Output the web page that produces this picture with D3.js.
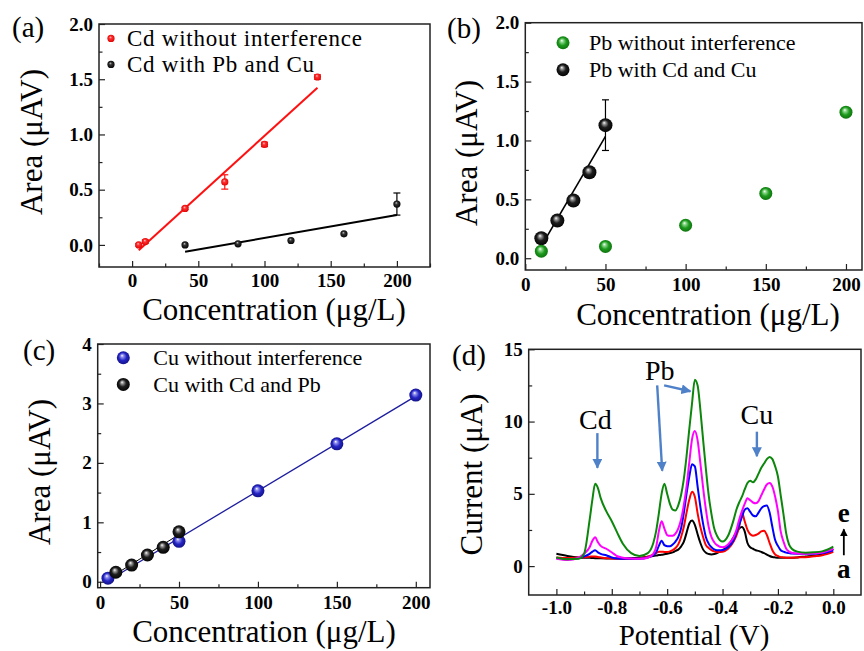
<!DOCTYPE html>
<html>
<head>
<meta charset="utf-8">
<script src="https://cdn.jsdelivr.net/npm/d3@7"></script>
<style>
body { margin: 0; background: #fff; }
svg { display: block; font-family: "Liberation Serif", "Times New Roman", serif; }
</style>
</head>
<body>
<div id="chart"></div>
<script>
// ---- (a) Cd ----
const concA_free = [5, 10, 40, 70, 100, 140];
const areaA_free = [0.00, 0.03, 0.33, 0.57, 0.91, 1.52];
const errA_free = [0.01, 0.015, 0.01, 0.065, 0.02, 0.02];
const concA_mix = [40, 80, 120, 160, 200];
const areaA_mix = [0.00, 0.01, 0.04, 0.10, 0.37];
const errA_mix = [0, 0, 0, 0, 0.10];

// ---- (b) Pb ----
const concB_free = [10, 50, 100, 150, 200];
const areaB_free = [0.06, 0.10, 0.28, 0.55, 1.24];
const errB_free = [0, 0, 0, 0.04, 0];
const concB_mix = [10, 20, 30, 40, 50];
const areaB_mix = [0.17, 0.32, 0.49, 0.73, 1.13];
const errB_mix = [0, 0, 0, 0, 0.215];

// ---- (c) Cu ----
const concC_free = [5, 50, 100, 150, 200];
const areaC_free = [0.06, 0.68, 1.53, 2.32, 3.14];
const errC_free = [0, 0.07, 0, 0, 0];
const concC_mix = [10, 20, 30, 40, 50];
const areaC_mix = [0.16, 0.28, 0.45, 0.58, 0.84];
const errC_mix = [0, 0, 0, 0, 0];

// ---- (d) stripping voltammograms, curves a..e ----
const potential = [-1.00, -0.96, -0.92, -0.90, -0.88, -0.87, -0.86, -0.85, -0.84, -0.82,
  -0.80, -0.78, -0.76, -0.73, -0.70, -0.67, -0.65, -0.64, -0.63, -0.62,
  -0.61, -0.60, -0.59, -0.58, -0.57, -0.56, -0.55, -0.54, -0.53, -0.52,
  -0.51, -0.50, -0.49, -0.48, -0.47, -0.46, -0.45, -0.44, -0.43, -0.42,
  -0.40, -0.38, -0.36, -0.35, -0.34, -0.33, -0.32, -0.31, -0.30, -0.29,
  -0.28, -0.27, -0.26, -0.25, -0.24, -0.23, -0.22, -0.21, -0.20, -0.19,
  -0.18, -0.17, -0.16, -0.15, -0.13, -0.10, -0.07, -0.04, -0.02, 0.00];
const currentA = [0.85, 0.70, 0.60, 0.58, 0.57, 0.56, 0.55, 0.55, 0.54, 0.53,
  0.53, 0.53, 0.53, 0.55, 0.58, 0.64, 0.70, 0.73, 0.76, 0.78,
  0.82, 0.86, 0.90, 0.95, 1.05, 1.14, 1.35, 1.67, 2.30, 2.95,
  3.15, 2.85, 2.20, 1.60, 1.14, 0.92, 0.84, 0.81, 0.83, 0.90,
  1.10, 1.40, 2.00, 2.35, 2.60, 2.70, 2.40, 1.60, 1.30, 1.20,
  1.10, 1.05, 0.98, 0.90, 0.80, 0.70, 0.63, 0.60, 0.58, 0.58,
  0.58, 0.58, 0.58, 0.58, 0.60, 0.66, 0.72, 0.80, 0.95, 1.20];
const currentB = [0.60, 0.56, 0.60, 0.62, 0.65, 0.67, 0.67, 0.63, 0.60, 0.55,
  0.53, 0.50, 0.49, 0.50, 0.53, 0.65, 0.80, 0.90, 1.00, 1.00,
  0.98, 0.98, 1.02, 1.10, 1.25, 1.50, 2.00, 2.70, 3.70, 4.60,
  5.15, 4.80, 3.65, 2.70, 2.00, 1.45, 1.25, 1.10, 1.02, 0.98,
  1.00, 1.20, 1.70, 2.10, 2.70, 3.70, 3.10, 2.50, 2.20, 2.10,
  2.15, 2.25, 2.40, 2.45, 2.15, 1.60, 1.10, 0.80, 0.70, 0.62,
  0.60, 0.58, 0.58, 0.58, 0.60, 0.62, 0.68, 0.75, 0.85, 0.98];
const currentC = [0.55, 0.48, 0.55, 0.67, 0.85, 1.00, 1.10, 0.95, 0.85, 0.75,
  0.60, 0.52, 0.50, 0.50, 0.50, 0.60, 0.75, 0.95, 1.40, 1.75,
  1.45, 1.38, 1.37, 1.50, 1.70, 2.00, 2.60, 3.65, 5.00, 6.20,
  7.05, 6.90, 5.50, 4.10, 2.90, 2.00, 1.55, 1.30, 1.15, 1.10,
  1.10, 1.30, 1.80, 2.30, 2.85, 3.40, 3.90, 4.00, 3.75, 3.50,
  3.45, 3.70, 4.00, 4.15, 4.20, 3.70, 2.70, 1.80, 1.40, 1.10,
  1.00, 0.93, 0.90, 0.87, 0.86, 0.86, 0.86, 0.90, 0.98, 1.10];
const currentD = [0.50, 0.42, 0.58, 0.85, 1.30, 1.75, 2.00, 1.65, 1.40, 1.20,
  0.95, 0.68, 0.58, 0.52, 0.50, 0.58, 0.85, 1.30, 2.40, 3.10,
  2.60, 2.15, 2.10, 2.10, 2.25, 2.60, 3.20, 4.20, 5.50, 7.20,
  8.80, 9.35, 8.70, 7.10, 5.40, 3.90, 2.70, 2.00, 1.65, 1.45,
  1.30, 1.50, 2.00, 2.50, 3.20, 3.80, 4.30, 4.70, 4.55, 4.40,
  4.35, 4.50, 4.90, 5.30, 5.65, 5.75, 5.50, 4.80, 3.80, 2.40,
  1.70, 1.20, 1.00, 0.92, 0.87, 0.86, 0.88, 0.94, 1.05, 1.20];
const currentE = [0.60, 0.47, 0.50, 0.85, 3.20, 4.60, 5.70, 5.40, 4.70, 3.80,
  3.10, 2.30, 1.55, 0.90, 0.70, 0.90, 1.60, 2.40, 3.65, 5.00,
  5.70, 5.00, 4.30, 3.90, 3.85, 4.20, 4.90, 6.00, 7.60, 9.50,
  11.30, 12.90, 12.50, 10.80, 8.70, 6.70, 4.90, 3.60, 2.60, 2.10,
  1.70, 2.10, 3.20, 3.90, 4.40, 4.80, 5.30, 5.75, 5.90, 5.80,
  6.00, 6.40, 6.80, 7.10, 7.40, 7.55, 7.40, 6.90, 6.20, 4.90,
  3.60, 2.25, 1.50, 1.20, 1.00, 0.93, 0.95, 1.02, 1.15, 1.35];

const FONT = '"Liberation Serif", "Times New Roman", serif';

const svg = d3.select("#chart").append("svg")
    .attr("width", 864)
    .attr("height", 651);
const defs = svg.append("defs");

// shaded "ball" markers like the origin plot symbols
const ball = (id, stops) => {
    const grad = defs.append("radialGradient").attr("id", id)
        .attr("cx", "50%").attr("cy", "50%").attr("r", "55%")
        .attr("fx", "40%").attr("fy", "32%");
    stops.forEach(([o, c]) => grad.append("stop").attr("offset", o).attr("stop-color", c));
};
ball("dotRed", [[0, "#ffc8c8"], [0.35, "#ff3030"], [1, "#dc0000"]]);
ball("dotBlack", [[0, "#c8c8c8"], [0.35, "#333333"], [1, "#000000"]]);
ball("ballBlack", [[0, "#ffffff"], [0.18, "#9a9a9a"], [0.5, "#1e1e1e"], [1, "#000000"]]);
ball("ballGreen", [[0, "#ffffff"], [0.2, "#8fd88f"], [0.55, "#1d9a1d"], [1, "#0b6e0b"]]);
ball("ballBlue", [[0, "#ffffff"], [0.2, "#9090ec"], [0.55, "#2424c4"], [1, "#10107e"]]);

const arrowHead = (id, color, size) => {
    defs.append("marker").attr("id", id)
        .attr("viewBox", "0 0 10 10")
        .attr("refX", 9).attr("refY", 5)
        .attr("markerUnits", "userSpaceOnUse")
        .attr("markerWidth", size).attr("markerHeight", size)
        .attr("orient", "auto")
        .append("path").attr("d", "M0,0 L10,5 L0,10 z").attr("fill", color);
};
arrowHead("arrowBlue", "#4f81c9", 10);
arrowHead("arrowBlack", "#000", 8);

const panel = p => {
    const g = svg.append("g");
    const x = d3.scaleLinear().domain(p.xDomain).range([p.left, p.right]);
    const y = d3.scaleLinear().domain(p.yDomain).range([p.bottom, p.top]);

    const styleAxis = a => {
        a.select(".domain").remove();
        a.attr("font-family", FONT).attr("font-size", 19).attr("font-weight", "bold");
        a.selectAll("line").attr("stroke", "#222").attr("stroke-width", 1.2);
        a.selectAll("text").attr("fill", "#000");
    };
    const noText = a => a.selectAll("text").remove();

    g.append("g").attr("transform", "translate(0," + p.bottom + ")")
        .call(d3.axisBottom(x).tickValues(p.xMinor).tickSize(-3.5))
        .call(styleAxis).call(noText);
    g.append("g").attr("transform", "translate(" + p.left + ",0)")
        .call(d3.axisLeft(y).tickValues(p.yMinor).tickSize(-3.5))
        .call(styleAxis).call(noText);
    g.append("g").attr("transform", "translate(0," + p.bottom + ")")
        .call(d3.axisBottom(x).tickValues(p.xTicks).tickSize(-6).tickPadding(p.xPad || 8).tickFormat(p.xFmt))
        .call(styleAxis);
    g.append("g").attr("transform", "translate(" + p.left + ",0)")
        .call(d3.axisLeft(y).tickValues(p.yTicks).tickSize(-6).tickPadding(6).tickFormat(p.yFmt))
        .call(styleAxis);

    g.append("rect")
        .attr("x", p.left).attr("y", p.top)
        .attr("width", p.right - p.left).attr("height", p.bottom - p.top)
        .attr("fill", "none").attr("stroke", "#222").attr("stroke-width", 1.5);

    g.append("text")
        .attr("x", p.xTitle[0]).attr("y", p.xTitle[1])
        .attr("text-anchor", "middle").attr("font-size", p.titleSize || 31)
        .text(p.xLabel);
    g.append("text")
        .attr("transform", "translate(" + p.yTitle[0] + "," + p.yTitle[1] + ") rotate(-90)")
        .attr("text-anchor", "middle").attr("font-size", 31)
        .text(p.yLabel);
    g.append("text")
        .attr("x", p.letter[0]).attr("y", p.letter[1])
        .attr("font-size", 29)
        .text(p.letter[2]);

    return { g, x, y };
};

const linearFit = (xs, ys) => {
    const mx = d3.mean(xs), my = d3.mean(ys);
    const sxy = d3.sum(xs, (v, i) => (v - mx) * (ys[i] - my));
    const sxx = d3.sum(xs, v => (v - mx) * (v - mx));
    const slope = sxy / sxx;
    return { slope, intercept: my - slope * mx };
};

const fitLine = (P, xs, ys, color, width) => {
    const f = linearFit(xs, ys);
    const ends = d3.extent(xs);
    P.g.append("path")
        .datum(ends)
        .attr("fill", "none")
        .attr("stroke", color)
        .attr("stroke-width", width)
        .attr("d", d3.line()
            .x(d => P.x(d))
            .y(d => P.y(f.intercept + f.slope * d)));
};

const points = (P, xs, ys, errs, fill, r, errColor) => {
    const data = xs.map((v, i) => ({ c: v, a: ys[i], e: errs[i] }));
    const eb = P.g.append("g").attr("stroke", errColor).attr("stroke-width", 1.2);
    data.filter(d => d.e > 0).forEach(d => {
        const x0 = P.x(d.c);
        eb.append("line").attr("x1", x0).attr("x2", x0)
            .attr("y1", P.y(d.a - d.e)).attr("y2", P.y(d.a + d.e));
        [d.a - d.e, d.a + d.e].forEach(v => {
            eb.append("line").attr("x1", x0 - 3.5).attr("x2", x0 + 3.5)
                .attr("y1", P.y(v)).attr("y2", P.y(v));
        });
    });
    P.g.selectAll(null)
        .data(data)
        .enter()
        .append("circle")
            .attr("cx", d => P.x(d.c))
            .attr("cy", d => P.y(d.a))
            .attr("r", r)
            .attr("fill", fill);
};

const legend = (P, items, mx, tx, baselines, r, size, spacing) => {
    items.forEach((it, i) => {
        P.g.append("circle")
            .attr("cx", mx).attr("cy", baselines[i] - size * 0.33)
            .attr("r", r).attr("fill", it.fill);
        P.g.append("text")
            .attr("x", tx).attr("y", baselines[i])
            .attr("font-size", size)
            .attr("letter-spacing", spacing || 0)
            .text(it.label);
    });
};

// plain hyphen for negatives, as in the original figure
const fmt1 = d => d.toFixed(1);
const fmt0 = d => d.toFixed(0);

// ---------- (a) ----------
const A = panel({
    left: 99, right: 430, top: 24, bottom: 267,
    xDomain: [-25, 225], yDomain: [-0.2, 2.0],
    xTicks: [0, 50, 100, 150, 200], xMinor: [-25, 25, 75, 125, 175, 225],
    yTicks: [0, 0.5, 1, 1.5, 2], yMinor: [0.25, 0.75, 1.25, 1.75],
    xFmt: fmt0, yFmt: fmt1, xPad: 7,
    xLabel: "Concentration (\u03bcg/L)", yLabel: "Area (\u03bcAV)",
    xTitle: [274, 320], yTitle: [42, 142], letter: [12, 37, "(a)"]
});
fitLine(A, concA_free, areaA_free, "#ff1010", 2);
fitLine(A, concA_mix, areaA_mix, "#000", 2);
points(A, concA_free, areaA_free, errA_free, "url(#dotRed)", 3.6, "#ff1010");
points(A, concA_mix, areaA_mix, errA_mix, "url(#dotBlack)", 3.6, "#000");
legend(A, [
    { fill: "url(#dotRed)", label: "Cd without interference" },
    { fill: "url(#dotBlack)", label: "Cd with Pb and Cu" }
], 111, 127, [46, 72], 3.6, 23, 0.75);

// ---------- (b) ----------
const B = panel({
    left: 525.3, right: 862, top: 22.7, bottom: 270,
    xDomain: [0, 210], yDomain: [-0.1, 2.0],
    xTicks: [0, 50, 100, 150, 200], xMinor: [25, 75, 125, 175],
    yTicks: [0, 0.5, 1, 1.5, 2], yMinor: [0.25, 0.75, 1.25, 1.75],
    xFmt: fmt0, yFmt: fmt1,
    xLabel: "Concentration (\u03bcg/L)", yLabel: "Area (\u03bcAV)",
    xTitle: [708, 325], yTitle: [477, 153], letter: [447, 38, "(b)"]
});
fitLine(B, concB_mix, areaB_mix, "#000", 1.6);
points(B, concB_mix, areaB_mix, errB_mix, "url(#ballBlack)", 7, "#000");
points(B, concB_free, areaB_free, errB_free, "url(#ballGreen)", 6.5, "#0b6e0b");
legend(B, [
    { fill: "url(#ballGreen)", label: "Pb without interference" },
    { fill: "url(#ballBlack)", label: "Pb with Cd and Cu" }
], 563, 589, [50, 77], 6.5, 22);

// ---------- (c) ----------
const C = panel({
    left: 97.7, right: 430, top: 344, bottom: 587.7,
    xDomain: [-1.5, 209], yDomain: [-0.1, 4],
    xTicks: [0, 50, 100, 150, 200], xMinor: [25, 75, 125, 175],
    yTicks: [0, 1, 2, 3, 4], yMinor: [0.5, 1.5, 2.5, 3.5],
    xFmt: fmt0, yFmt: fmt0,
    xLabel: "Concentration (\u03bcg/L)", yLabel: "Area (\u03bcAV)",
    xTitle: [264, 642], yTitle: [50, 472], letter: [23, 360, "(c)"]
});
fitLine(C, concC_free, areaC_free, "#1c1c9e", 1.3);
fitLine(C, concC_mix, areaC_mix, "#000", 1);
points(C, concC_free, areaC_free, errC_free, "url(#ballBlue)", 6.5, "#1c1c9e");
points(C, concC_mix, areaC_mix, errC_mix, "url(#ballBlack)", 6.5, "#000");
legend(C, [
    { fill: "url(#ballBlue)", label: "Cu without interference" },
    { fill: "url(#ballBlack)", label: "Cu with Cd and Pb" }
], 123.3, 153.3, [365, 391.7], 6.5, 22);

// ---------- (d) ----------
const D = panel({
    left: 528.7, right: 861, top: 349.3, bottom: 595,
    xDomain: [-1.1, 0.1], yDomain: [-2, 15],
    xTicks: [-1, -0.8, -0.6, -0.4, -0.2, 0], xMinor: [-0.9, -0.7, -0.5, -0.3, -0.1],
    yTicks: [0, 5, 10, 15], yMinor: [2.5, 7.5, 12.5],
    xFmt: fmt1, yFmt: fmt0, xPad: 5.5, titleSize: 29,
    xLabel: "Potential (V)", yLabel: "Current (\u03bcA)",
    xTitle: [694, 644.5], yTitle: [482, 474.5], letter: [452, 365, "(d)"]
});
const curves = [
    { values: currentA, color: "#000000" },
    { values: currentB, color: "#ff0000" },
    { values: currentC, color: "#0000ff" },
    { values: currentD, color: "#ff00ff" },
    { values: currentE, color: "#0c870c" }
];
const scan = d3.line()
    .x((d, i) => D.x(potential[i]))
    .y(d => D.y(d))
    .curve(d3.curveMonotoneX);
D.g.selectAll("path.scan")
    .data(curves)
    .enter()
    .append("path")
        .attr("class", "scan")
        .attr("fill", "none")
        .attr("stroke", d => d.color)
        .attr("stroke-width", 2)
        .attr("d", d => scan(d.values));

// peak labels and arrows, placed in data units
const peakLabels = [
    { text: "Cd", v: -0.859, i: 9.5 },
    { text: "Pb", v: -0.627, i: 12.9 },
    { text: "Cu", v: -0.276, i: 9.8 }
];
const peakArrows = [
    { v1: -0.852, i1: 9.2, v2: -0.852, i2: 6.8 },
    { v1: -0.636, i1: 12.5, v2: -0.618, i2: 6.6 },
    { v1: -0.611, i1: 12.5, v2: -0.516, i2: 12.1 },
    { v1: -0.276, i1: 9.3, v2: -0.276, i2: 7.6 }
];
D.g.selectAll(null).data(peakLabels).enter().append("text")
    .attr("x", d => D.x(d.v)).attr("y", d => D.y(d.i))
    .attr("text-anchor", "middle").attr("font-size", 28)
    .text(d => d.text);
D.g.selectAll(null).data(peakArrows).enter().append("line")
    .attr("x1", d => D.x(d.v1)).attr("y1", d => D.y(d.i1))
    .attr("x2", d => D.x(d.v2)).attr("y2", d => D.y(d.i2))
    .attr("stroke", "#4f81c9").attr("stroke-width", 2.4)
    .attr("marker-end", "url(#arrowBlue)");

// a -> e order marker
D.g.append("text").attr("x", D.x(0.038)).attr("y", D.y(3.05))
    .attr("text-anchor", "middle").attr("font-size", 27).attr("font-weight", "bold").text("e");
D.g.append("text").attr("x", D.x(0.038)).attr("y", D.y(-0.8))
    .attr("text-anchor", "middle").attr("font-size", 27).attr("font-weight", "bold").text("a");
D.g.append("line")
    .attr("x1", D.x(0.038)).attr("y1", D.y(0.75))
    .attr("x2", D.x(0.038)).attr("y2", D.y(2.55))
    .attr("stroke", "#000").attr("stroke-width", 1.8)
    .attr("marker-end", "url(#arrowBlack)");
</script>
</body>
</html>
